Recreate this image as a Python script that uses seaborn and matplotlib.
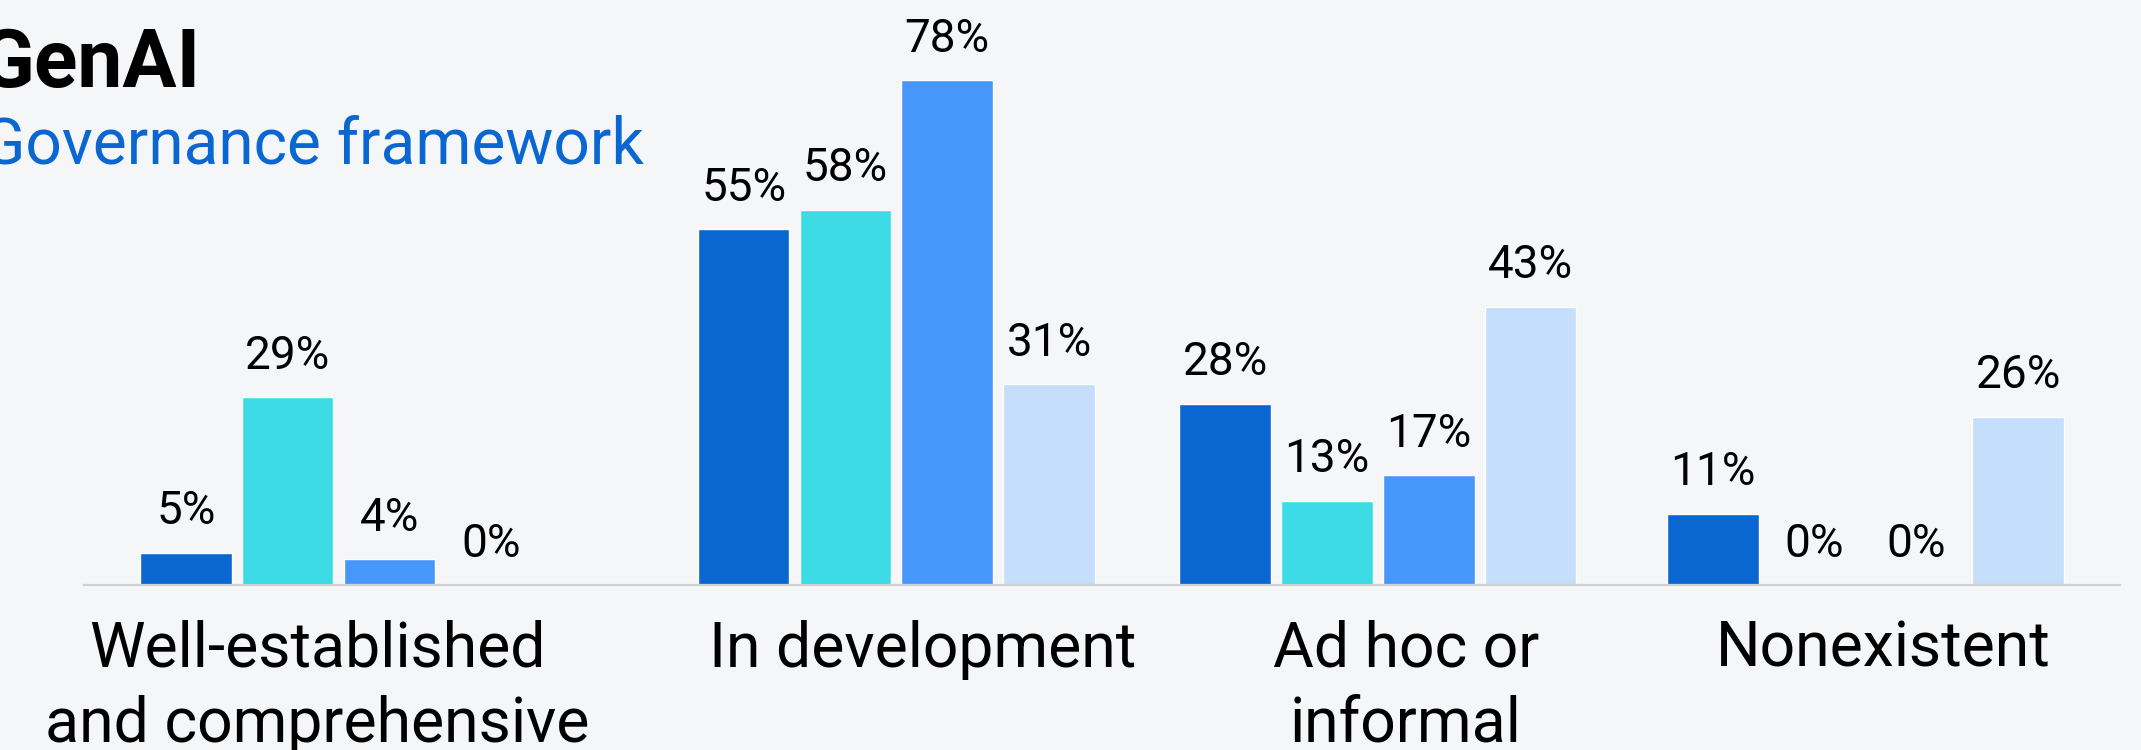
import numpy as np
import pandas as pd
import matplotlib
matplotlib.use("Agg")
import matplotlib.pyplot as plt
import matplotlib.transforms as mtransforms
import seaborn as sns

# ---- data ----
categories = ["Well-established\nand comprehensive", "In development", "Ad hoc or\ninformal", "Nonexistent"]
series_names = ["Group 1", "Group 2", "Group 3", "Group 4"]
values_g1 = [5, 55, 28, 11]
values_g2 = [29, 58, 13, 0]
values_g3 = [4, 78, 17, 0]
values_g4 = [0, 31, 43, 26]
title = "GenAI"
subtitle = "Governance framework"

# ---- layout / style ----
group_pos = [0.0, 1.096, 2.042, 3.0]
label_dx_px = [-21, 26, 28, 18]
palette = ["#0A67D2", "#3CDBE5", "#4797FA", "#C4DEFB"]
bg = "#F5F6F8"
FONT = "Roboto"

W, H = 2141, 750
DPI = 100

rows = []
for name, vals in zip(series_names, [values_g1, values_g2, values_g3, values_g4]):
    for pos, v in zip(group_pos, vals):
        rows.append({"pos": pos, "series": name, "value": v})
df = pd.DataFrame(rows)

sns.set_theme(style="white")
plt.rcParams["font.family"] = [FONT, "DejaVu Sans"]

fig = plt.figure(figsize=(W / DPI, H / DPI), dpi=DPI, facecolor=bg)
base_px = 585
px_per_pct = 6.47
ax_h = 80 * px_per_pct
ax = fig.add_axes([84 / W, (H - base_px) / H, (2120 - 84) / W, ax_h / H])
ax.set_facecolor(bg)

min_gap = float(np.min(np.diff(sorted(group_pos))))
sns.barplot(data=df, x="pos", y="value", hue="series", hue_order=series_names,
            palette=palette, native_scale=True, width=0.8 / min_gap, gap=0.1,
            saturation=1, errorbar=None, legend=False, ax=ax)

ax.set_xlim(-0.5, 3.5)
ax.set_ylim(0, 80)
for c in ax.containers:
    ax.bar_label(c, labels=[f"{int(round(b.get_height()))}%" for b in c],
                 padding=14, fontsize=33, color="black", family=[FONT, "DejaVu Sans"])

ax.set_xticks(group_pos)
ax.set_xticklabels(categories, fontsize=45, color="black", linespacing=1.32)
ax.tick_params(axis="x", length=0, pad=25)
for lbl, dx in zip(ax.get_xticklabels(), label_dx_px):
    lbl.set_transform(lbl.get_transform() +
                      mtransforms.ScaledTranslation(dx / DPI, 0, fig.dpi_scale_trans))
ax.set_yticks([])
ax.set_xlabel("")
ax.set_ylabel("")
for s in ["top", "left", "right"]:
    ax.spines[s].set_visible(False)
ax.spines["bottom"].set_color("#CFD0D3")
ax.spines["bottom"].set_linewidth(1.6)

fig.text(200 / W, 1 - 87 / H, title, ha="right", va="baseline", fontsize=58,
         fontweight="bold", color="black")
fig.text(644 / W, 1 - 163 / H, subtitle, ha="right", va="baseline", fontsize=46,
         color="#0A67D2")

fig.savefig("out.png", dpi=DPI, facecolor=bg)
